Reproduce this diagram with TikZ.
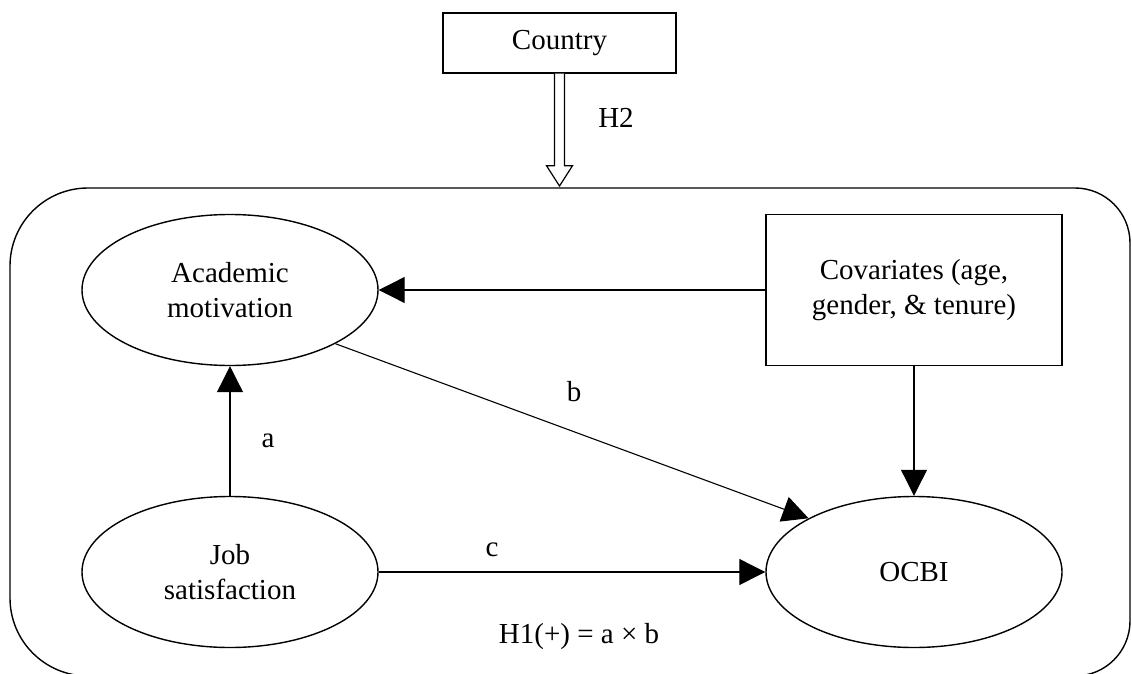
\documentclass[tikz,border=0pt]{standalone}
\usepackage{fontspec}
\setmainfont{Liberation Serif}
\usetikzlibrary{shapes.geometric,arrows.meta,calc}
\begin{document}
\begin{tikzpicture}[x=1pt,y=-1pt,
  every node/.style={font=\fontsize{29}{35}\selectfont},
  boxnode/.style={draw,line width=1.4pt,rectangle,inner sep=0pt,align=center},
  oval/.style={draw,line width=1.4pt,ellipse,minimum width=296pt,minimum height=151pt,inner sep=0pt,align=center},
  conn/.style={line width=1.1pt,-{Triangle[length=26pt,width=26pt]}},
  lbl/.style={inner sep=0pt},
  frame/.style={line width=1.4pt}
]
\useasboundingbox (0,0) rectangle (1132,674);
\clip (0,0) rectangle (1132,674);

% outer rounded frame
\draw[frame,rounded corners=78pt] (560,188) -- (10,188) -- (10,676) -- (560,676);
\draw[frame,rounded corners=55pt] (560,188) -- (1130,188) -- (1130,676) -- (560,676);

% nodes
\node[boxnode,minimum width=233pt,minimum height=60pt] (country) at (559.5,43) {Country};
\node[boxnode,minimum width=296pt,minimum height=151pt] (cov) at (914,290) {Covariates (age,\\gender, \& tenure)};
\node[oval] (acad) at (230,290) {Academic\\motivation};
\node[oval] (job) at (230,572) {Job\\satisfaction};
\node[oval] (ocbi) at (914,572) {OCBI};

% hollow block arrow from Country to the frame
\coordinate (tip) at (559.5,186);
\draw[line width=1.2pt,fill=white,line join=miter]
  ($(country.south)+(-5,0)$) -- ($(country.south)+(-5,92)$) -- ($(country.south)+(-13,92)$)
  -- (tip) -- ($(country.south)+(13,92)$) -- ($(country.south)+(5,92)$) -- ($(country.south)+(5,0)$);
\node[lbl] (h2) at (616,118) {H2};

% connectors
\draw[conn] (cov.west) -- (acad.east);
\draw[conn] (job.north) -- (acad.south);
\draw[conn] (cov.south) -- (ocbi.north);
\draw[conn] (job.east) -- (ocbi.west);
\draw[conn] (acad.-27) -- (ocbi.153);

% labels
\node[lbl] (la) at (268,441) {a};
\node[lbl] (lb) at (574,392) {b};
\node[lbl] (lc) at (492,550) {c};
\node[lbl] (h1) at (579,637) {H1(+) = a × b};
\end{tikzpicture}
\end{document}
